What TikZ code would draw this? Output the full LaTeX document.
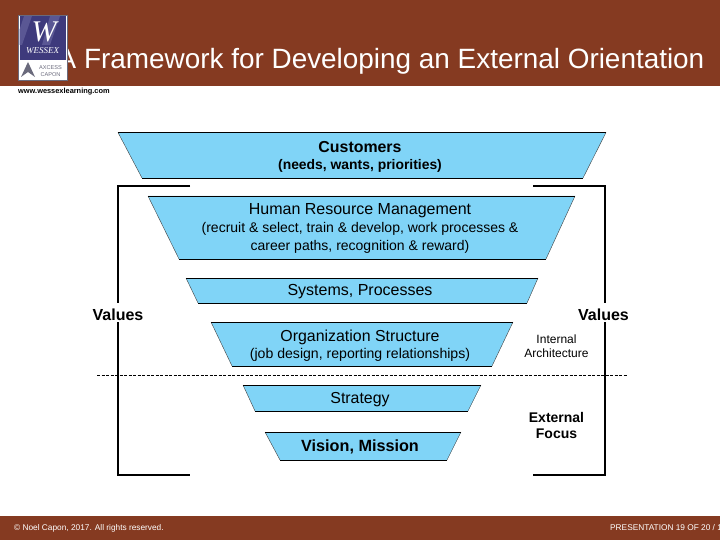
\documentclass[tikz,border=0pt]{standalone}
\usepackage{fontspec}
\setmainfont{Liberation Sans}
\newfontfamily\serifw{Liberation Serif}
\definecolor{brownbar}{HTML}{853A21}
\definecolor{skyfill}{HTML}{80D4F7}
\definecolor{logopurple}{HTML}{3E3A7C}
\definecolor{logoband}{HTML}{5A5794}
\definecolor{logogray}{HTML}{6A6A7C}
\newcommand{\fs}[1]{\fontsize{#1}{#1}\selectfont}
\newcommand{\trapz}[6]{%
  \fill[skyfill] (#1,#5) -- (#2,#5) -- (#4,#6) -- (#3,#6) -- cycle;
  \draw[slant] (#1,#5) -- (#3,#6);
  \draw[slant] (#2,#5) -- (#4,#6);
  \draw[edge] (#1,#5) -- (#2,#5);
  \draw[edge] (#3,#6) -- (#4,#6);
}
\tikzset{
  edge/.style={draw=black,line width=0.8pt},
  slant/.style={draw=black!75,line width=0.4pt},
  lab/.style={inner sep=0,align=center,text=black},
  frame/.style={draw=black,line width=2pt,line cap=butt,line join=miter},
  framer/.style={draw=black,line width=1.5pt,line cap=butt},
}
\begin{document}
\begin{tikzpicture}[x=1pt,y=-1pt]
\useasboundingbox (0,0) rectangle (720,540);
\fill[white] (0,0) rectangle (720,540);
\fill[brownbar] (0,0) rectangle (720,86);
\fill[brownbar] (0,516) rectangle (720,540);
\node[lab,text=white,anchor=base west,font=\fs{27.9}] (title) at (57.5,69) {A Framework for Developing an External Orientation};
% logo
\fill[white,draw=logogray,line width=0.8pt] (18,15) rectangle (67,80);
\fill[logopurple] (19.5,16) rectangle (66,60);
\fill[logoband] (24,16) -- (32,16) -- (22,45) -- (19.5,45) -- (19.5,30) -- cycle;
\fill[logoband] (50,16) -- (60,16) -- (50,45) -- (42,45) -- cycle;
\node[lab,text=white,font={\serifw\itshape\fs{30}}] (logow) at (44,32) {W};
\node[lab,text=white,font={\serifw\itshape\fs{9}}] (logoname) at (42.5,50.5) {WESSEX};
\node[lab,text=logogray,font=\fs{5.6}] (logoa) at (50.5,67.5) {AXCESS};
\node[lab,text=logogray,font=\fs{5.6}] (logoc) at (50.5,74.5) {CAPON};
\fill[logogray] (28,62) -- (35,77) -- (28,72) -- (21,77) -- cycle;
\node[lab,anchor=west,font=\bfseries\fs{7.4}] (url) at (18,92) {www.wessexlearning.com};
% frame
\coordinate (tl) at (118,186); \coordinate (tle) at (190,186);
\coordinate (ml) at (118,303); \coordinate (mlb) at (118,322);
\coordinate (bl) at (118,475); \coordinate (ble) at (190,475);
\coordinate (tr) at (605,186); \coordinate (tre) at (533,186);
\coordinate (mr) at (605,303); \coordinate (mrb) at (605,322);
\coordinate (br) at (605,475); \coordinate (bre) at (533,475);
\draw[frame] (tle) -- (tl) -- (ml);
\draw[frame] (mlb) -- (bl) -- (ble);
\draw[framer] (tr) -- (mr);
\draw[framer] (mrb) -- (br);
\draw[frame] (tre) -- ([xshift=0.75pt]tr);
\draw[frame] (bre) -- ([xshift=0.75pt]br);
\coordinate (dl) at (97,375.5); \coordinate (dr) at (628,375.5);
\draw[black,line width=0.7pt,dash pattern=on 3pt off 1.5pt] (dl) -- (dr);
% trapezoids
\trapz{118}{606}{142}{583}{132.5}{178}
\trapz{148}{575}{179}{546}{196}{259}
\trapz{186}{538}{198}{527}{278}{303}
\trapz{211}{513}{232}{492}{322}{366}
\trapz{243}{481}{255}{468}{385}{411}
\trapz{265}{461}{280}{447}{432}{460}
% labels
\node[lab,font=\bfseries\fs{15.9}] (cust) at (360,147.5) {Customers};
\node[lab,font=\bfseries\fs{13.9}] (custs) at (360,165.5) {(needs, wants, priorities)};
\node[lab,font=\fs{16}] (hr) at (360,211) {Human Resource Management};
\node[lab,font=\fs{14},text depth=0pt] (hrs) at (360,236.5) {(recruit \& select, train \& develop, work processes \&\\[3.5pt]career paths, recognition \& reward)};
\node[lab,font=\fs{16}] (sys) at (360,292) {Systems, Processes};
\node[lab,font=\fs{15.9}] (org) at (360,337.5) {Organization Structure};
\node[lab,font=\fs{14.1}] (orgs) at (360,355) {(job design, reporting relationships)};
\node[lab,font=\fs{15.9}] (strat) at (360,400) {Strategy};
\node[lab,font=\bfseries\fs{16.2}] (vis) at (360,446.5) {Vision, Mission};
\node[lab,fill=white,inner xsep=1pt,font=\bfseries\fs{16}] (vl) at (118,314.5) {Values};
\node[lab,fill=white,inner xsep=1pt,font=\bfseries\fs{16}] (vr) at (603.5,314.5) {Values};
\node[lab,font=\fs{12}] (int) at (556.5,346) {Internal\\[2.5pt]Architecture};
\node[lab,font=\bfseries\fs{14}] (ext) at (556.5,425) {External\\[2pt]Focus};
\node[lab,text=white,anchor=west,font=\fs{8.3}] (copy) at (14,528) {© Noel Capon, 2017. All rights reserved.};
\node[lab,text=white,anchor=west,font=\fs{8.3}] (pres) at (610,528) {PRESENTATION 19 OF 20 / 16};
\end{tikzpicture}
\end{document}
